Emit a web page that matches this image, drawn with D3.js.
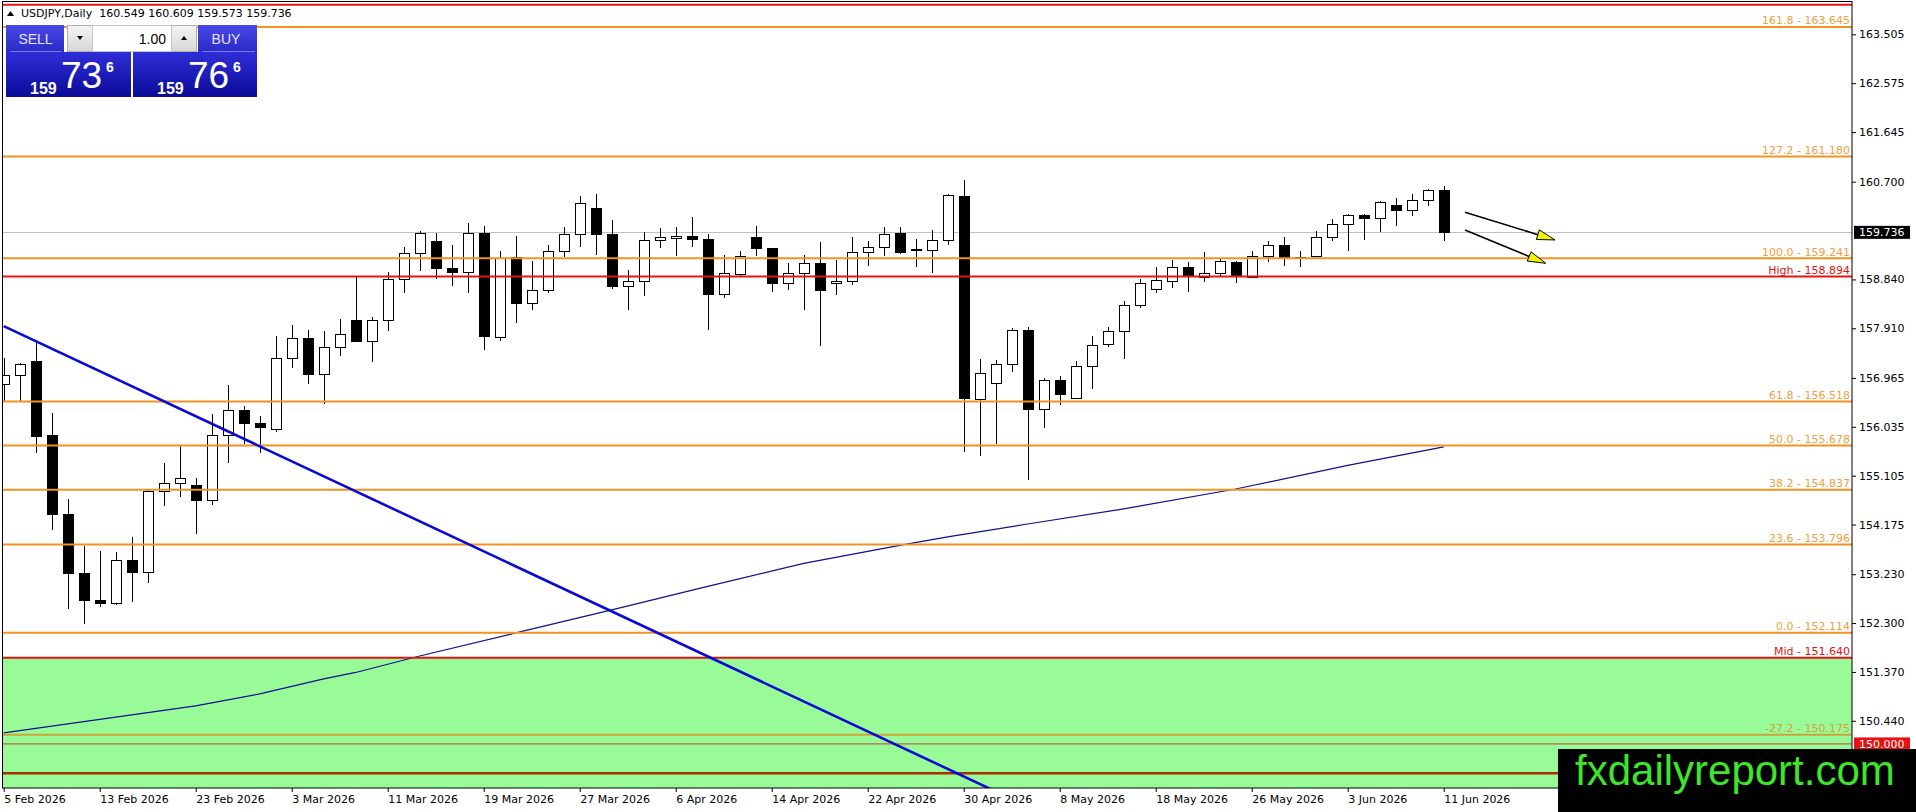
<!DOCTYPE html>
<html>
<head>
<meta charset="utf-8">
<script src="https://cdn.jsdelivr.net/npm/d3@7"></script>
<style>
  body { margin: 0; background: #fff; }
  svg { display: block; font-family: "DejaVu Sans", sans-serif; }
</style>
</head>
<body>
<div id="container"></div>
<script>
/* DATA */
const dates = [
  "2026-02-05","2026-02-06","2026-02-09","2026-02-10","2026-02-11","2026-02-12","2026-02-13",
  "2026-02-16","2026-02-17","2026-02-18","2026-02-19","2026-02-20","2026-02-23","2026-02-24",
  "2026-02-25","2026-02-26","2026-02-27","2026-03-02","2026-03-03","2026-03-04","2026-03-05",
  "2026-03-06","2026-03-09","2026-03-10","2026-03-11","2026-03-12","2026-03-13","2026-03-16",
  "2026-03-17","2026-03-18","2026-03-19","2026-03-20","2026-03-23","2026-03-24","2026-03-25",
  "2026-03-26","2026-03-27","2026-03-30","2026-03-31","2026-04-01","2026-04-02","2026-04-03",
  "2026-04-06","2026-04-07","2026-04-08","2026-04-09","2026-04-10","2026-04-13","2026-04-14",
  "2026-04-15","2026-04-16","2026-04-17","2026-04-20","2026-04-21","2026-04-22","2026-04-23",
  "2026-04-24","2026-04-27","2026-04-28","2026-04-29","2026-04-30","2026-05-01","2026-05-04",
  "2026-05-05","2026-05-06","2026-05-07","2026-05-08","2026-05-11","2026-05-12","2026-05-13",
  "2026-05-14","2026-05-15","2026-05-18","2026-05-19","2026-05-20","2026-05-21","2026-05-22",
  "2026-05-25","2026-05-26","2026-05-27","2026-05-28","2026-05-29","2026-06-01","2026-06-02",
  "2026-06-03","2026-06-04","2026-06-05","2026-06-08","2026-06-09","2026-06-10","2026-06-11"
];
const opens = [
  156.846,157.018,157.291,155.881,154.369,153.245,152.730,152.686,153.492,153.276,154.813,154.972,
  154.928,154.636,155.874,156.350,156.116,155.989,157.342,157.723,157.037,157.558,158.066,157.660,
  158.066,158.847,159.343,159.578,159.057,158.974,159.724,157.752,159.260,158.382,158.637,159.381,
  159.706,160.202,159.706,158.707,158.802,159.591,159.630,159.668,159.610,158.554,158.936,159.655,
  159.445,158.764,158.961,159.152,158.770,158.809,159.368,159.458,159.719,159.419,159.394,159.591,
  160.419,156.568,156.861,157.224,157.873,156.365,156.918,156.587,157.192,157.606,157.854,158.350,
  158.656,158.815,159.069,158.891,158.955,159.178,158.891,159.279,159.496,159.273,159.279,159.642,
  159.897,160.069,160.011,160.260,160.164,160.355,160.549
];
const highs = [
  157.354,157.259,157.672,156.306,154.655,153.765,153.670,153.651,153.937,154.858,155.354,155.671,
  155.068,156.274,156.833,156.433,156.243,157.767,157.977,157.875,157.863,158.085,158.879,158.129,
  158.987,159.451,159.755,159.724,159.501,159.914,159.864,159.388,159.674,159.197,159.502,159.846,
  160.419,160.470,159.973,159.025,159.750,159.820,159.846,160.037,159.706,159.311,159.388,159.865,
  159.445,159.146,159.311,159.547,159.216,159.655,159.579,159.846,159.846,159.610,159.789,160.457,
  160.737,157.319,157.307,157.924,157.937,156.957,157.001,157.288,157.765,157.943,158.433,158.847,
  159.069,159.216,159.178,159.356,159.229,159.190,159.388,159.579,159.655,159.388,159.770,159.992,
  160.088,160.088,160.330,160.393,160.457,160.565,160.609
];
const lows = [
  156.529,156.529,155.531,154.064,152.559,152.273,152.610,152.635,152.705,153.067,154.528,154.706,
  154.001,154.541,155.354,155.703,155.544,155.944,157.145,156.859,156.465,157.386,157.640,157.278,
  157.863,158.574,159.006,158.847,158.720,158.574,157.505,157.669,158.019,158.261,158.573,159.273,
  159.451,159.311,158.656,158.261,158.529,159.432,159.292,159.464,157.879,158.478,158.891,159.292,
  158.592,158.643,158.261,157.574,158.548,158.739,159.101,159.292,159.324,159.082,158.955,159.502,
  155.557,155.486,155.709,157.084,155.028,156.015,156.441,156.556,156.759,157.561,157.319,158.287,
  158.573,158.669,158.592,158.796,158.891,158.764,158.859,159.165,159.101,159.082,159.273,159.579,
  159.375,159.598,159.738,159.852,160.043,160.234,159.573
];
const closes = [
  157.018,157.227,155.862,154.369,153.245,152.730,152.673,153.492,153.276,154.813,154.972,155.055,
  154.642,155.881,156.350,156.116,156.040,157.342,157.723,157.037,157.558,157.799,157.660,158.066,
  158.847,159.343,159.724,159.057,158.974,159.724,157.754,159.241,158.382,158.637,159.381,159.706,
  160.298,159.706,158.707,158.802,159.591,159.642,159.668,159.604,158.554,158.961,159.286,159.432,
  158.764,158.961,159.152,158.637,158.809,159.368,159.458,159.706,159.356,159.394,159.591,160.438,
  156.587,157.052,157.224,157.873,156.365,156.918,156.664,157.192,157.593,157.854,158.350,158.770,
  158.828,159.069,158.923,158.955,159.197,158.923,159.279,159.496,159.260,159.248,159.642,159.897,
  160.069,160.011,160.310,160.164,160.349,160.546,159.736
];

// moving average at these bar indices
const maIdx  = [0, 12, 16, 18, 20, 22, 26, 32, 38, 44, 50, 56, 59, 64, 70, 77, 84, 90];
const maVals = [150.209, 150.723, 150.951, 151.094, 151.237, 151.360, 151.674, 152.112, 152.550,
                152.997, 153.435, 153.777, 153.939, 154.186, 154.472, 154.852, 155.300, 155.652];

// descending trendline anchors (bar index, price)
const trendIdx  = [0, 64];
const trendVals = [157.95, 148.81];

// fibonacci levels
const fibNames  = ["161.8", "127.2", "100.0", "61.8", "50.0", "38.2", "23.6", "0.0", "-27.2"];
const fibPrices = [163.645, 161.180, 159.241, 156.518, 155.678, 154.837, 153.796, 152.114, 150.175];

// red levels
const redNames  = ["High", "Mid"];
const redPrices = [158.894, 151.640];

// other horizontal lines
const topLine = 164.068;
const roundLevel = 150.000;
const bottomLine = 149.442;

// arrows: [startIdx, startPrice, endIdx, endPrice]
const arrows = [
  [91.33, 160.118, 96.96, 159.591],
  [91.33, 159.781, 96.38, 159.147]
];

const priceTicks = [163.505, 162.575, 161.645, 160.700, 158.840, 157.910, 156.965, 156.035,
                    155.105, 154.175, 153.230, 152.300, 151.370, 150.440];
const dateTicks = ["2026-02-05","2026-02-13","2026-02-23","2026-03-03","2026-03-11","2026-03-19",
                   "2026-03-27","2026-04-06","2026-04-14","2026-04-22","2026-04-30","2026-05-08",
                   "2026-05-18","2026-05-26","2026-06-03","2026-06-11"];

const symbol = "USDJPY,Daily";
const bid = 159.736;
const ask = 159.766;
const lotSize = "1.00";

/* CONSTANTS */
const width = 1916;
const height = 812;
const plotLeft = 2.5, plotTop = 1.5, plotRight = 1852, plotBottom = 788;
const orange = "#f39222";
const orangeText = "#f0a040";
const red = "#e31414";

/* SCALES */
const xScale = d3.scaleLinear()
  .domain([0, dates.length - 1])
  .range([3.7, 1443.7]);

const yScale = d3.scaleLinear()
  .domain([149.161, 164.12])
  .range([plotBottom, 2]);

const parse = d3.timeParse("%Y-%m-%d");
const fmtDate = d3.timeFormat("%-d %b %Y");

/* SVG */
const svg = d3.select("#container")
  .append("svg")
  .attr("width", width)
  .attr("height", height);

const defs = svg.append("defs");
defs.append("clipPath").attr("id", "plot")
  .append("rect")
  .attr("x", plotLeft).attr("y", plotTop)
  .attr("width", plotRight - plotLeft).attr("height", plotBottom - plotTop);

function gradient(id, c1, c2) {
  const g = defs.append("linearGradient").attr("id", id)
    .attr("x1", 0).attr("y1", 0).attr("x2", 0).attr("y2", 1);
  g.append("stop").attr("offset", "0%").attr("stop-color", c1);
  g.append("stop").attr("offset", "100%").attr("stop-color", c2);
}
gradient("btn", "#4a4ae6", "#2a2ac8");
gradient("box", "#2e2ed8", "#0b0b98");
gradient("grey", "#f4f4f4", "#d6d6d6");

const plot = svg.append("g").attr("clip-path", "url(#plot)");

// green zone below Mid
plot.append("rect")
  .attr("x", plotLeft)
  .attr("width", plotRight - plotLeft)
  .attr("y", yScale(redPrices[1]))
  .attr("height", plotBottom - yScale(redPrices[1]))
  .attr("fill", "#98fb98");

// current price line
plot.append("line")
  .attr("x1", plotLeft).attr("x2", plotRight)
  .attr("y1", Math.round(yScale(bid)) + 0.5).attr("y2", Math.round(yScale(bid)) + 0.5)
  .attr("stroke", "#c0c0c0");

/* CANDLES */
const candles = plot.append("g");
dates.forEach((d, i) => {
  const cx = Math.round(xScale(i)) + 0.5;
  const o = opens[i], c = closes[i];
  const up = c >= o;
  candles.append("line")
    .attr("x1", cx).attr("x2", cx)
    .attr("y1", Math.round(yScale(highs[i]))).attr("y2", Math.round(yScale(lows[i])))
    .attr("stroke", "#000");
  const top = Math.round(yScale(Math.max(o, c))) + 0.5;
  const bot = Math.round(yScale(Math.min(o, c))) + 0.5;
  candles.append("rect")
    .attr("x", cx - 5).attr("width", 10)
    .attr("y", top).attr("height", Math.max(bot - top, 1))
    .attr("fill", up ? "#fff" : "#000")
    .attr("stroke", "#000");
});

/* MOVING AVERAGE */
plot.append("path")
  .datum(maIdx.map((d, i) => [d, maVals[i]]))
  .attr("fill", "none")
  .attr("stroke", "#10108e")
  .attr("stroke-width", 1.2)
  .attr("d", d3.line().x(d => xScale(d[0])).y(d => yScale(d[1])));

/* HORIZONTAL LEVELS */
function hline(price, color, w) {
  plot.append("line")
    .attr("x1", plotLeft).attr("x2", plotRight)
    .attr("y1", yScale(price)).attr("y2", yScale(price))
    .attr("stroke", color).attr("stroke-width", w);
}
hline(topLine, red, 2);
fibPrices.forEach((p, i) => hline(p, p < redPrices[1] ? "#cfa23a" : orange, 2));
redPrices.forEach(p => hline(p, red, 2));
hline(roundLevel, "#c0402a", 1);
hline(bottomLine, "#a83000", 2.5);

// level labels
const lbl = svg.append("g").attr("font-size", 11).attr("text-anchor", "end");
fibPrices.forEach((p, i) => {
  lbl.append("text")
    .attr("x", 1850).attr("y", yScale(p) - 2.5)
    .attr("fill", p < redPrices[1] ? "#d2a040" : orangeText)
    .text(`${fibNames[i]} - ${p.toFixed(3)}`);
});
redPrices.forEach((p, i) => {
  lbl.append("text")
    .attr("x", 1850).attr("y", yScale(p) - 2.5)
    .attr("fill", red)
    .text(`${redNames[i]} - ${p.toFixed(3)}`);
});

/* TRENDLINE */
plot.append("line")
  .attr("x1", xScale(trendIdx[0])).attr("y1", yScale(trendVals[0]))
  .attr("x2", xScale(trendIdx[1])).attr("y2", yScale(trendVals[1]))
  .attr("stroke", "#0a0ad2").attr("stroke-width", 2.6);

/* ARROWS */
arrows.forEach(a => {
  const x1 = xScale(a[0]), y1 = yScale(a[1]), x2 = xScale(a[2]), y2 = yScale(a[3]);
  const ang = Math.atan2(y2 - y1, x2 - x1);
  const len = 18, hw = 5;
  const bx = x2 - len * Math.cos(ang), by = y2 - len * Math.sin(ang);
  plot.append("line")
    .attr("x1", x1).attr("y1", y1).attr("x2", bx).attr("y2", by)
    .attr("stroke", "#000").attr("stroke-width", 1.6);
  const pts = [
    [x2, y2],
    [bx + hw * Math.sin(ang), by - hw * Math.cos(ang)],
    [bx - hw * Math.sin(ang), by + hw * Math.cos(ang)]
  ];
  plot.append("polygon")
    .attr("points", pts.map(p => p.join(",")).join(" "))
    .attr("fill", "#f4f400").attr("stroke", "#000").attr("stroke-width", 1);
});

/* FRAME AND AXES */
svg.append("rect")
  .attr("x", plotLeft).attr("y", plotTop)
  .attr("width", plotRight - plotLeft).attr("height", plotBottom - plotTop)
  .attr("fill", "none").attr("stroke", "#000");

const yAxis = d3.axisRight(yScale)
  .tickValues(priceTicks)
  .tickSize(4)
  .tickPadding(3)
  .tickFormat(d3.format(".3f"));
svg.append("g")
  .attr("transform", `translate(${plotRight},0)`)
  .call(yAxis)
  .call(g => g.select(".domain").remove())
  .call(g => g.selectAll("text").attr("font-size", 11).attr("font-family", "DejaVu Sans").attr("fill", "#000"));

const xAxis = d3.axisBottom(xScale)
  .tickValues(dateTicks.map(t => dates.indexOf(t)))
  .tickSize(4)
  .tickPadding(3)
  .tickFormat(i => fmtDate(parse(dates[i])));
svg.append("g")
  .attr("transform", `translate(0,${plotBottom})`)
  .call(xAxis)
  .call(g => g.select(".domain").remove())
  .call(g => g.selectAll("text")
    .attr("text-anchor", "start")
    .attr("font-size", 11).attr("font-family", "DejaVu Sans").attr("fill", "#000"));

// price tags on the axis
function tag(price, bg) {
  const y = yScale(price);
  svg.append("rect").attr("x", 1854).attr("y", y - 6.5).attr("width", 56).attr("height", 13).attr("fill", bg);
  svg.append("text").attr("x", 1859).attr("y", y).attr("dy", "0.35em")
    .attr("font-size", 11).attr("fill", "#fff").text(price.toFixed(3));
}
tag(bid, "#000");
tag(roundLevel, "#e81010");

/* TITLE */
const last = dates.length - 1;
svg.append("path").attr("d", "M7,16 L10.5,11 L14,16 Z").attr("fill", "#000");
svg.append("text")
  .attr("x", 21).attr("y", 17)
  .attr("font-size", 11)
  .attr("xml:space", "preserve")
  .text(`${symbol}  ${opens[last].toFixed(3)} ${highs[last].toFixed(3)} ${lows[last].toFixed(3)} ${closes[last].toFixed(3)}`);

/* TRADE PANEL */
const panel = svg.append("g").attr("transform", "translate(6,25)").attr("font-family", "Liberation Sans, Arial, sans-serif");
panel.append("rect").attr("x", 0).attr("y", 0).attr("width", 58).attr("height", 27).attr("fill", "url(#btn)");
panel.append("rect").attr("x", 192).attr("y", 0).attr("width", 59).attr("height", 27).attr("fill", "url(#btn)");
panel.append("line").attr("x1", 4).attr("x2", 56).attr("y1", 26.5).attr("y2", 26.5).attr("stroke", "#7a7af0");
panel.append("line").attr("x1", 196).attr("x2", 249).attr("y1", 26.5).attr("y2", 26.5).attr("stroke", "#7a7af0");
panel.append("text").attr("x", 29.5).attr("y", 19).attr("text-anchor", "middle")
  .attr("font-size", 14).attr("fill", "#e4e4ff").text("SELL");
panel.append("text").attr("x", 220).attr("y", 19).attr("text-anchor", "middle")
  .attr("font-size", 14).attr("fill", "#e4e4ff").text("BUY");

// lot control
panel.append("rect").attr("x", 61.5).attr("y", 0.5).attr("width", 129).attr("height", 26)
  .attr("fill", "url(#grey)").attr("stroke", "#b0b0b0");
panel.append("rect").attr("x", 86.5).attr("y", 0.5).attr("width", 79).attr("height", 26)
  .attr("fill", "#fff").attr("stroke", "#c8c8c8");
panel.append("path").attr("d", "M71,11 L77,11 L74,15 Z").attr("fill", "#000");
panel.append("path").attr("d", "M175,15 L181,15 L178,11 Z").attr("fill", "#000");
panel.append("text").attr("x", 160).attr("y", 18.5).attr("text-anchor", "end")
  .attr("font-size", 14).attr("fill", "#000").text(lotSize);

// price boxes
function priceBox(x, w, price) {
  const s = price.toFixed(3);
  const big = s.split(".")[0], mid = s.split(".")[1].slice(0, 2), pip = s.split(".")[1].slice(2);
  panel.append("rect").attr("x", x).attr("y", 27).attr("width", w).attr("height", 45).attr("fill", "url(#box)");
  panel.append("text").attr("x", x + 24).attr("y", 69).attr("font-size", 16).attr("font-weight", "bold")
    .attr("fill", "#fff").text(big);
  panel.append("text").attr("x", x + 55).attr("y", 62.5).attr("font-size", 37)
    .attr("fill", "#fff").text(mid);
  panel.append("text").attr("x", x + 100).attr("y", 46.5).attr("font-size", 14).attr("font-weight", "bold")
    .attr("fill", "#fff").text(pip);
}
priceBox(0, 125, bid);
priceBox(127, 124, ask);

/* WATERMARK */
svg.append("rect").attr("x", 1558).attr("y", 749).attr("width", 358).attr("height", 63).attr("fill", "#000");
svg.append("text")
  .attr("x", 1575).attr("y", 785)
  .attr("font-family", "Liberation Sans, Arial, sans-serif")
  .attr("font-size", 42)
  .attr("fill", "#3ee62a")
  .text("fxdailyreport.com");
</script>
</body>
</html>
